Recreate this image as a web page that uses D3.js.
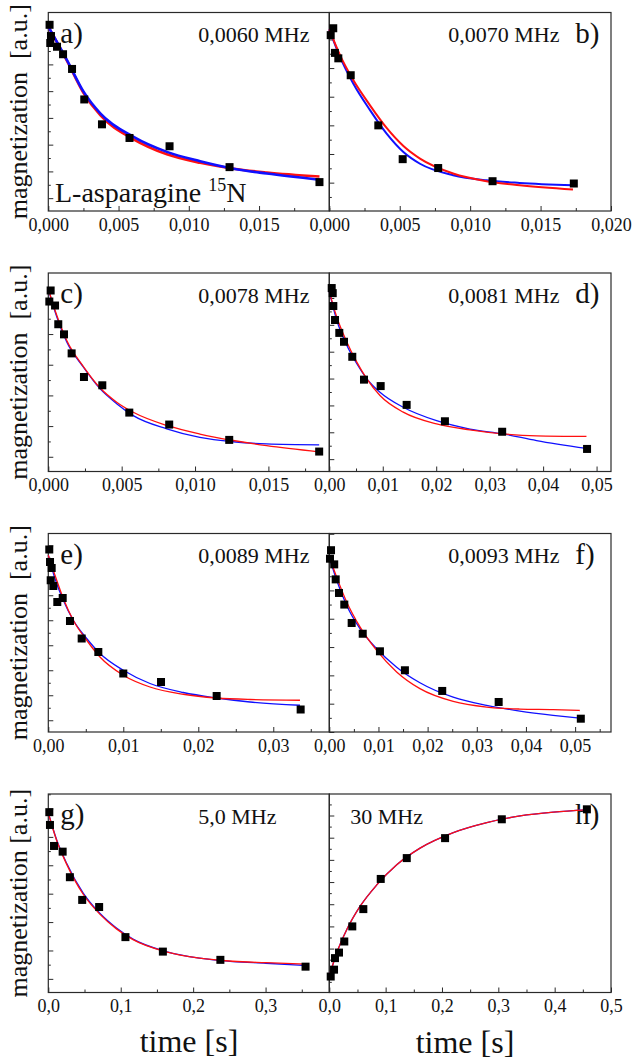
<!DOCTYPE html>
<html>
<head>
<meta charset="utf-8">
<script src="https://cdn.jsdelivr.net/npm/d3@7"></script>
<style>
  html, body { margin: 0; padding: 0; background: #fff; }
  svg { display: block; }
  svg text { font-family: "Liberation Serif", "DejaVu Serif", "Times New Roman", serif; }
</style>
</head>
<body>
<svg id="chart" width="635" height="1062"></svg>
<script>
// ---- Relaxation data: time [s] vs magnetization [a.u.], one block per field ----
const panelLetters = ["a)", "b)", "c)", "d)", "e)", "f)", "g)", "h)"];
const fieldLabels  = ["0,0060 MHz", "0,0070 MHz", "0,0078 MHz", "0,0081 MHz",
                      "0,0089 MHz", "0,0093 MHz", "5,0 MHz", "30 MHz"];
const timeMax      = [0.02, 0.02, 0.01915, 0.0527, 0.03747, 0.0573, 0.388, 0.5];
const timeStep     = [0.005, 0.005, 0.005, 0.01, 0.01, 0.01, 0.1, 0.1];
const timeDecimals = [3, 3, 3, 2, 2, 2, 1, 1];
const magRange     = [[0.52, 7.94], [0.01, 6.94], [0.52, 6.99], [0.54, 7.93],
                      [0.53, 8.47], [0.0, 7.01], [0.52, 7.51], [0.02, 8.97]];

// measured points [t, M]
const pointsA = [[0.00009,7.48],[0.00019,7.06],[0.00014,6.80],[0.00062,6.66],[0.00105,6.38],[0.00169,5.83],
                 [0.00256,4.69],[0.00382,3.76],[0.00578,3.25],[0.00863,2.94],[0.0129,2.16],[0.0193,1.60]];
const pointsB = [[0.00028,6.39],[0.0001,6.15],[0.0004,5.53],[0.00064,5.34],[0.00152,4.75],[0.00348,3.00],
                 [0.00521,1.82],[0.00773,1.51],[0.01159,1.05],[0.01736,0.97]];
const pointsC = [[0.00016,6.42],[0.00007,6.06],[0.00046,5.93],[0.00068,5.32],[0.00107,4.99],[0.00159,4.37],
                 [0.00243,3.60],[0.00368,3.33],[0.00552,2.44],[0.00824,2.05],[0.01233,1.55],[0.01846,1.17]];
const pointsD = [[0.00045,7.37],[0.00064,7.18],[0.00075,6.70],[0.00107,6.18],[0.00187,5.70],[0.00275,5.37],
                 [0.0043,4.81],[0.00649,3.96],[0.00961,3.72],[0.01447,3.02],[0.02163,2.41],[0.03234,2.02],[0.04822,1.38]];
const pointsE = [[0.00013,7.83],[0.00023,7.33],[0.00045,7.09],[0.00032,6.60],[0.00067,6.37],[0.0012,5.73],
                 [0.00192,5.89],[0.00289,4.97],[0.00445,4.27],[0.00667,3.73],[0.01,2.87],[0.01503,2.53],
                 [0.02245,1.97],[0.03365,1.43]];
const pointsF = [[0.00035,6.42],[0.00014,6.12],[0.001,5.92],[0.0013,5.39],[0.00197,4.91],[0.00305,4.50],
                 [0.00455,3.85],[0.0068,3.47],[0.0103,2.85],[0.01538,2.18],[0.02297,1.45],[0.03445,1.06],[0.05116,0.47]];
const pointsG = [[0.0014,6.87],[0.0023,6.42],[0.0079,5.68],[0.0198,5.48],[0.0298,4.58],[0.0468,3.78],
                 [0.0702,3.53],[0.1065,2.47],[0.1582,1.96],[0.2376,1.67],[0.3552,1.43]];
const pointsH = [[0.0025,0.74],[0.0084,1.05],[0.0101,1.57],[0.0172,1.82],[0.0266,2.32],[0.0408,3.00],
                 [0.0604,3.78],[0.0913,5.14],[0.1375,6.08],[0.2055,6.98],[0.3062,7.83],[0.4572,8.28]];

// fitted curves (red and blue models)
const blueA = [[0,7.41],[0.00133,6.16],[0.00251,4.98],[0.0037,4.17],[0.00607,3.29],[0.00844,2.73],
               [0.01081,2.38],[0.01318,2.10],[0.01555,1.92],[0.0193,1.69]];
const redA  = [[0,7.41],[0.00133,6.13],[0.00251,4.93],[0.0037,4.10],[0.00607,3.20],[0.00844,2.64],
               [0.01081,2.32],[0.01318,2.10],[0.01555,1.96],[0.0193,1.81]];
const blueB = [[0,6.35],[0.00076,5.39],[0.0017,4.46],[0.00289,3.53],[0.00407,2.71],[0.00526,2.07],
               [0.00644,1.66],[0.00879,1.26],[0.01116,1.08],[0.01352,0.99],[0.0173,0.91]];
const redB  = [[0,6.35],[0.00076,5.45],[0.0017,4.58],[0.00289,3.70],[0.00407,2.91],[0.00526,2.28],
               [0.00644,1.84],[0.00879,1.32],[0.01116,1.05],[0.01352,0.91],[0.0173,0.76]];
const blueC = [[0,6.47],[0.00057,5.57],[0.00125,4.75],[0.00238,3.93],[0.00352,3.22],[0.00466,2.73],
               [0.00579,2.34],[0.00807,1.91],[0.01033,1.63],[0.0126,1.49],[0.01488,1.42],[0.01846,1.39]];
const redC  = [[0,6.47],[0.00057,5.62],[0.00125,4.80],[0.00238,3.95],[0.00352,3.25],[0.00466,2.78],
               [0.00579,2.45],[0.00807,2.02],[0.01033,1.74],[0.0126,1.53],[0.01488,1.36],[0.01846,1.16]];
const blueD = [[0,7.24],[0.00138,6.18],[0.00325,5.25],[0.00512,4.56],[0.00699,4.00],[0.00948,3.49],
               [0.01383,2.93],[0.02007,2.43],[0.0263,2.12],[0.03252,1.94],[0.03877,1.69],[0.04811,1.40]];
const redD  = [[0,7.24],[0.00138,6.30],[0.00325,5.37],[0.00512,4.62],[0.00699,4.00],[0.00948,3.37],
               [0.01383,2.75],[0.02007,2.31],[0.0263,2.09],[0.03252,1.94],[0.03877,1.87],[0.04811,1.85]];
const blueE = [[0,7.60],[0.00089,6.67],[0.002,5.80],[0.00333,5.00],[0.00512,4.27],[0.00689,3.67],
               [0.01,3.00],[0.01356,2.47],[0.018,2.11],[0.02245,1.89],[0.02689,1.73],[0.03356,1.60]];
const redE  = [[0,7.60],[0.00089,6.80],[0.002,5.87],[0.00333,5.00],[0.00512,4.20],[0.00689,3.53],
               [0.01,2.80],[0.01356,2.33],[0.018,2.04],[0.02245,1.89],[0.02689,1.83],[0.03356,1.80]];
const blueF = [[0,6.18],[0.0015,5.36],[0.00354,4.47],[0.00624,3.65],[0.00963,2.94],[0.0137,2.29],
               [0.01843,1.74],[0.0252,1.23],[0.032,0.94],[0.03876,0.74],[0.04553,0.59],[0.05095,0.49]];
const redF  = [[0,6.18],[0.0015,5.47],[0.00354,4.59],[0.00624,3.71],[0.00963,2.88],[0.0137,2.12],
               [0.01843,1.53],[0.0252,1.08],[0.032,0.88],[0.03876,0.81],[0.04553,0.79],[0.05095,0.76]];
const blueG = [[0,6.84],[0.0116,5.89],[0.0253,5.07],[0.0482,4.02],[0.0711,3.31],[0.0941,2.79],
               [0.117,2.40],[0.1629,1.96],[0.2087,1.73],[0.2545,1.61],[0.3004,1.55],[0.3554,1.47]];
const redG  = [[0,6.84],[0.0116,5.87],[0.0253,5.04],[0.0482,3.98],[0.0711,3.28],[0.0941,2.76],
               [0.117,2.38],[0.1629,1.95],[0.2087,1.73],[0.2545,1.62],[0.3004,1.57],[0.3554,1.52]];
const blueH = [[0,0.76],[0.0131,1.80],[0.0309,2.85],[0.0545,3.90],[0.0842,4.87],[0.1197,5.78],
               [0.1611,6.53],[0.2202,7.23],[0.2796,7.68],[0.3387,7.98],[0.3979,8.15],[0.4572,8.25]];
const redH  = [[0,0.76],[0.0131,1.80],[0.0309,2.85],[0.0545,3.90],[0.0842,4.87],[0.1197,5.78],
               [0.1611,6.53],[0.2202,7.23],[0.2796,7.68],[0.3387,7.98],[0.3979,8.15],[0.4572,8.25]];

const allPoints = [pointsA, pointsB, pointsC, pointsD, pointsE, pointsF, pointsG, pointsH];
const allBlue   = [blueA, blueB, blueC, blueD, blueE, blueF, blueG, blueH];
const allRed    = [redA, redB, redC, redD, redE, redF, redG, redH];

// ---- Layout ----
const SERIF = '"Liberation Serif", "DejaVu Serif", "Times New Roman", serif';
const svg = d3.select("#chart");
const colX = [[48.3, 329.3], [329.3, 611]];
const rowTop = [12.5, 273, 533.5, 794];
const rowH = 198.5;
const lineWidth = [2.6, 2.0, 1.3, 1.3, 1.3, 1.3, 1.3, 1.3];
const FRAME = "#2a2a2a";

function fmtComma(dec) {
  const f = d3.format("." + dec + "f");
  return v => f(v).replace(".", ",");
}

function range(lo, hi, step) {
  const out = [];
  const n0 = Math.ceil(lo / step - 1e-9), n1 = Math.floor(hi / step + 1e-9);
  for (let n = n0; n <= n1; n++) out.push(+(n * step).toFixed(6));
  return out;
}

panelLetters.forEach((letter, i) => {
  const col = i % 2, row = Math.floor(i / 2);
  const [x0, x1] = colX[col];
  const y0 = rowTop[row], y1 = y0 + rowH;
  const g = svg.append("g");

  const x = d3.scaleLinear().domain([0, timeMax[i]]).range([x0, x1]);
  const y = d3.scaleLinear().domain(magRange[i]).range([y1, y0]);

  // time axis: major ticks with labels, minor ticks between
  let major = range(0, timeMax[i], timeStep[i]);
  if (col === 0) major = major.filter(v => v < timeMax[i] - timeStep[i] * 0.02);
  const minor = range(0, timeMax[i], timeStep[i] / 2).filter(v => !major.some(m => Math.abs(m - v) < 1e-9));

  const xAx = g.append("g").attr("transform", `translate(0,${y1})`)
    .call(d3.axisBottom(x).tickValues(major).tickSize(-5).tickPadding(7).tickFormat(fmtComma(timeDecimals[i])));
  xAx.select(".domain").remove();
  xAx.attr("font-family", SERIF).attr("font-size", 18).attr("color", FRAME);
  xAx.selectAll("text").attr("fill", "#111");

  const xMinor = g.append("g").attr("transform", `translate(0,${y1})`)
    .call(d3.axisBottom(x).tickValues(minor).tickSize(-3).tickFormat(""));
  xMinor.select(".domain").remove();
  xMinor.attr("color", FRAME);

  // magnetization axis: unlabelled inward ticks
  const yMajor = range(Math.ceil(magRange[i][0]), magRange[i][1], 1);
  const yMinor = range(magRange[i][0], magRange[i][1], 0.5).filter(v => Math.abs(v - Math.round(v)) > 1e-6);
  const yAx = g.append("g").attr("transform", `translate(${x0},0)`)
    .call(d3.axisLeft(y).tickValues(yMajor).tickSize(-5).tickFormat(""));
  yAx.select(".domain").remove();
  yAx.attr("color", FRAME);
  const yAx2 = g.append("g").attr("transform", `translate(${x0},0)`)
    .call(d3.axisLeft(y).tickValues(yMinor).tickSize(-2.5).tickFormat(""));
  yAx2.select(".domain").remove();
  yAx2.attr("color", FRAME);

  // frame
  g.append("rect").attr("x", x0).attr("y", y0).attr("width", x1 - x0).attr("height", y1 - y0)
    .attr("fill", "none").attr("stroke", FRAME).attr("stroke-width", 1.2);

  // annotations
  const fieldX = col === 0 ? x0 + 150 : (i === 7 ? x0 + 21 : x0 + 119);
  const letterX = col === 0 ? x0 + 12 : x0 + 246;
  g.append("text").attr("x", fieldX).attr("y", y0 + 29.5).attr("font-family", SERIF)
    .attr("font-size", 22).attr("fill", "#111").text(fieldLabels[i]);
  g.append("text").attr("x", letterX).attr("y", y0 + 30).attr("font-family", SERIF)
    .attr("font-size", 29).attr("fill", "#111").text(letter);

  if (i === 0) {
    const t = g.append("text").attr("x", x0 + 6.7).attr("y", y1 - 9).attr("font-family", SERIF)
      .attr("font-size", 28).attr("fill", "#111");
    t.append("tspan").text("L-asparagine ");
    t.append("tspan").attr("font-size", 18).attr("dy", -11).text("15");
    t.append("tspan").attr("dy", 11).text("N");
  }

  // fit curves
  const line = d3.line().x(d => x(d[0])).y(d => y(d[1])).curve(d3.curveMonotoneX);
  const order = i === 0 ? [["red", allRed[i], "#ff1010"], ["blue", allBlue[i], "#1010ff"]]
                        : [["blue", allBlue[i], "#1010ff"], ["red", allRed[i], "#ff1010"]];
  order.forEach(([name, pts, color]) => {
    g.append("path").attr("class", "fit-" + name).datum(pts)
      .attr("fill", "none").attr("stroke", color)
      .attr("stroke-width", lineWidth[i]).attr("d", line);
  });

  // measured points
  const s = 8;
  g.selectAll("rect.pt").data(allPoints[i]).join("rect").attr("class", "pt")
    .attr("x", d => x(d[0]) - s / 2).attr("y", d => y(d[1]) - s / 2)
    .attr("width", s).attr("height", s).attr("fill", "#000");

  // y-axis title on the left column
  if (col === 0) {
    const label = row === 3 ? "magnetization [a.u.]" : "magnetization  [a.u.]";
    svg.append("text")
      .attr("transform", `translate(27,${(y0 + y1) / 2}) rotate(-90)`)
      .attr("text-anchor", "middle").attr("font-family", SERIF).attr("font-size", 26).attr("fill", "#111")
      .style("white-space", "pre").text(label);
  }
});

// x-axis titles
svg.append("text").attr("x", 189).attr("y", 1052).attr("text-anchor", "middle").attr("font-family", SERIF)
  .attr("font-size", 32).attr("fill", "#111").text("time [s]");
svg.append("text").attr("x", 465).attr("y", 1053).attr("text-anchor", "middle").attr("font-family", SERIF)
  .attr("font-size", 32).attr("fill", "#111").text("time [s]");
</script>
</body>
</html>
